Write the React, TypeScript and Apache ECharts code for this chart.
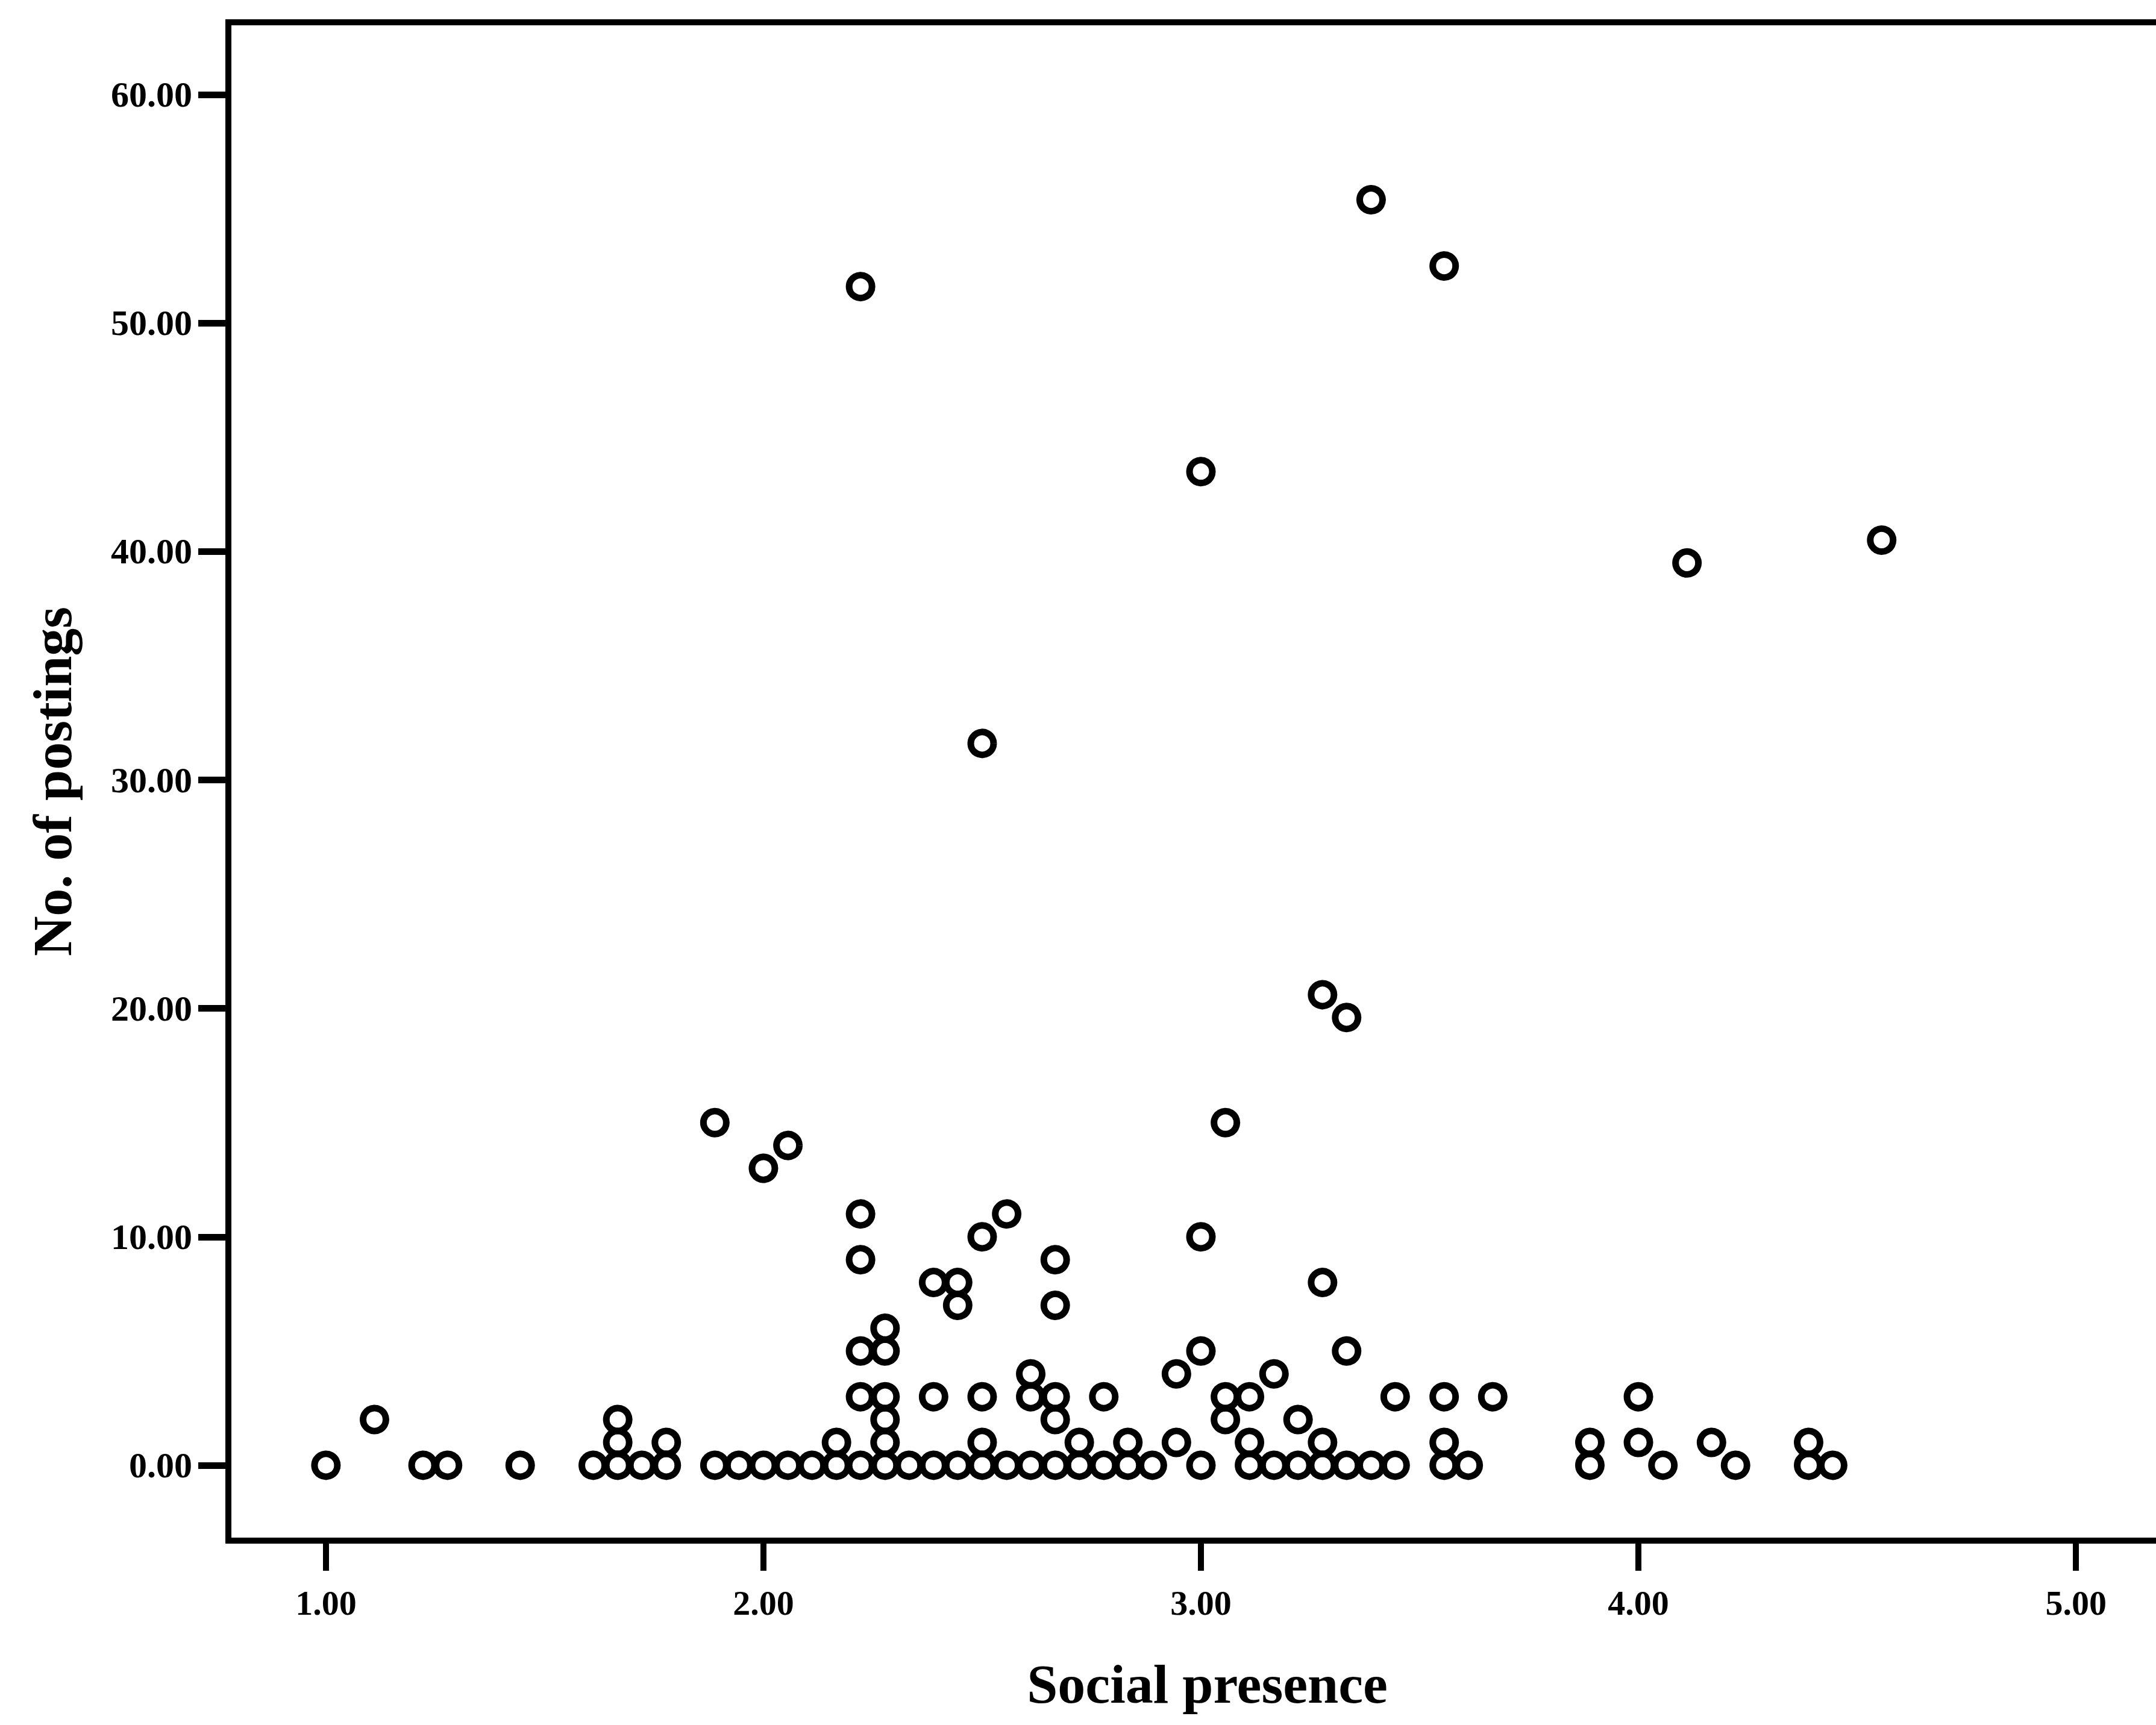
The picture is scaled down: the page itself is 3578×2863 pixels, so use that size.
import React, { useEffect, useRef } from "react";
import * as echarts from "echarts";

// Social presence (x) and number of postings (y), one entry per respondent
const socialPresence = [
  // postings = 0
  1.0, 1.222, 1.278, 1.444, 1.611, 1.667, 1.722, 1.778, 1.889, 1.944, 2.0, 2.056, 2.111, 2.167,
  2.222, 2.278, 2.333, 2.389, 2.444, 2.5, 2.556, 2.611, 2.667, 2.722, 2.778, 2.833, 2.889, 3.0,
  3.111, 3.167, 3.222, 3.278, 3.333, 3.389, 3.444, 3.556, 3.611, 3.889, 4.056, 4.222, 4.389, 4.444,
  // postings = 1
  1.667, 1.778, 2.167, 2.278, 2.5, 2.722, 2.833, 2.944, 3.111, 3.278, 3.556, 3.889, 4.0, 4.167, 4.389,
  // postings = 2
  1.111, 1.667, 2.278, 2.667, 3.056, 3.222,
  // postings = 3
  2.222, 2.278, 2.389, 2.5, 2.611, 2.667, 2.778, 3.056, 3.111, 3.444, 3.556, 3.667, 4.0,
  // postings = 4
  2.611, 2.944, 3.167,
  // postings = 5
  2.222, 2.278, 3.0, 3.333,
  // postings = 6
  2.278,
  // postings = 7
  2.444, 2.667,
  // postings = 8
  2.389, 2.444, 3.278,
  // postings = 9
  2.222, 2.667,
  // postings = 10
  2.5, 3.0,
  // postings = 11
  2.222, 2.556,
  // higher values
  2.0, 2.056, 1.889, 3.056, 3.333, 3.278, 2.5, 4.111, 4.556, 3.0, 2.222, 3.556, 3.389,
];

const postings = [
  0, 0, 0, 0, 0, 0, 0, 0, 0, 0, 0, 0, 0, 0,
  0, 0, 0, 0, 0, 0, 0, 0, 0, 0, 0, 0, 0, 0,
  0, 0, 0, 0, 0, 0, 0, 0, 0, 0, 0, 0, 0, 0,
  1, 1, 1, 1, 1, 1, 1, 1, 1, 1, 1, 1, 1, 1, 1,
  2, 2, 2, 2, 2, 2,
  3, 3, 3, 3, 3, 3, 3, 3, 3, 3, 3, 3, 3,
  4, 4, 4,
  5, 5, 5, 5,
  6,
  7, 7,
  8, 8, 8,
  9, 9,
  10, 10,
  11, 11,
  13, 14, 15, 15, 19.6, 20.6, 31.6, 39.5, 40.5, 43.5, 51.6, 52.5, 55.4,
];

const xTicks = [1, 2, 3, 4, 5];
const yTicks = [0, 10, 20, 30, 40, 50, 60];
const xTitle = "Social presence";
const yTitle = "No. of postings";

const FONT = "Liberation Serif";

export default function App() {
  const ref = useRef<HTMLDivElement>(null);

  useEffect(() => {
    if (!ref.current) return;
    const chart = echarts.init(ref.current, null, { renderer: "svg" });
    const data = socialPresence.map((x, i) => [x, postings[i]]);
    const lineStyle = { color: "#000", width: 10, cap: "square" as const };
    const xMin = 0.777;
    const xMax = 5.183;

    chart.setOption({
      animation: false,
      backgroundColor: "#ffffff",
      grid: { left: 379, top: 37, right: 0, bottom: 306, containLabel: false },
      xAxis: [
        {
          type: "value",
          min: xMin,
          max: xMax,
          position: "bottom",
          axisLine: { show: true, onZero: false, lineStyle },
          axisTick: {
            show: true,
            inside: false,
            length: 50,
            customValues: xTicks,
            lineStyle: { color: "#000", width: 10 },
          },
          axisLabel: {
            show: true,
            customValues: xTicks,
            margin: 74,
            formatter: (v: number) => v.toFixed(2),
            fontFamily: FONT,
            fontSize: 58,
            fontWeight: "bold",
            color: "#000",
          },
          splitLine: { show: false },
          name: xTitle,
          nameLocation: "middle",
          nameGap: 192,
          nameTextStyle: {
            fontFamily: FONT,
            fontSize: 92,
            fontWeight: "bold",
            color: "#000",
            padding: [0, 0, 0, 50],
          },
        },
        {
          type: "value",
          min: xMin,
          max: xMax,
          position: "top",
          axisLine: { show: true, onZero: false, lineStyle },
          axisTick: { show: false },
          axisLabel: { show: false },
          splitLine: { show: false },
        },
      ],
      yAxis: {
        type: "value",
        min: -3.3,
        max: 63.17,
        position: "left",
        axisLine: { show: true, onZero: false, lineStyle },
        axisTick: {
          show: true,
          inside: false,
          length: 50,
          customValues: yTicks,
          lineStyle: { color: "#000", width: 11 },
        },
        axisLabel: {
          show: true,
          customValues: yTicks,
          margin: 60,
          formatter: (v: number) => v.toFixed(2),
          fontFamily: FONT,
          fontSize: 60,
          fontWeight: "bold",
          color: "#000",
        },
        splitLine: { show: false },
        name: yTitle,
        nameLocation: "middle",
        nameGap: 246,
        nameTextStyle: {
          fontFamily: FONT,
          fontSize: 92,
          fontWeight: "bold",
          color: "#000",
        },
      },
      series: [
        {
          type: "scatter",
          xAxisIndex: 0,
          yAxisIndex: 0,
          data,
          symbol: "circle",
          symbolSize: 38,
          itemStyle: {
            color: "rgba(0,0,0,0)",
            borderColor: "#000",
            borderWidth: 11,
            opacity: 1,
          },
          emphasis: { disabled: true },
        },
      ],
    });

    return () => chart.dispose();
  }, []);

  return (
    <div
      ref={ref}
      style={{ position: "absolute", left: 0, top: 0, width: 3578, height: 2863 }}
    />
  );
}
